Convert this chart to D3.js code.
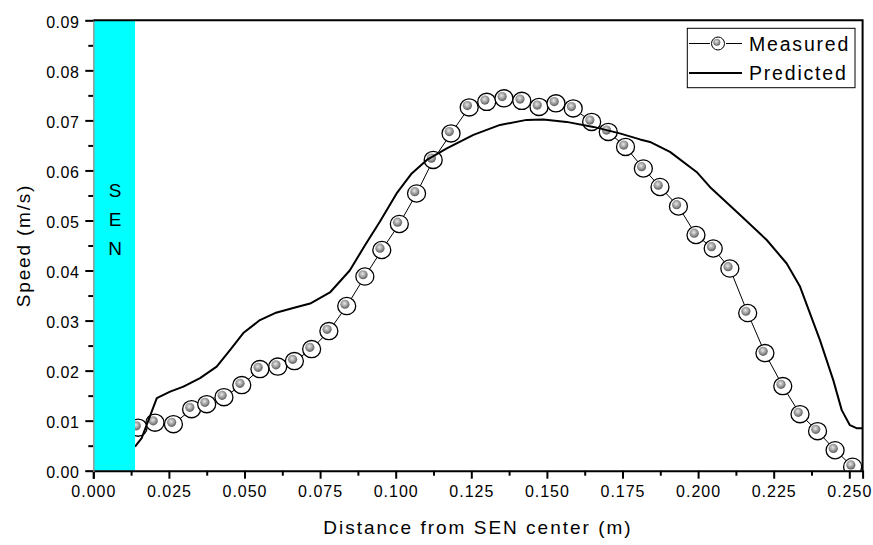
<!DOCTYPE html>
<html>
<head>
<meta charset="utf-8">
<script src="https://cdn.jsdelivr.net/npm/d3@7/dist/d3.min.js"></script>
<style>
  body { margin: 0; background: #fff; }
  svg { display: block; font-family: "Liberation Sans", Arial, sans-serif; }
</style>
</head>
<body>
<svg id="chart" width="873" height="545"></svg>
<script>
// measured speed along the distance from the SEN centre
const measuredX = [0.0148, 0.0204, 0.0265, 0.0325, 0.0375, 0.0432, 0.0491, 0.0551, 0.0610, 0.0665,
  0.0722, 0.0779, 0.0838, 0.0898, 0.0954, 0.1012, 0.1069, 0.1124, 0.1183, 0.1243,
  0.1301, 0.1358, 0.1417, 0.1474, 0.1530, 0.1587, 0.1648, 0.1703, 0.1760, 0.1819,
  0.1874, 0.1935, 0.1993, 0.2050, 0.2105, 0.2164, 0.2221, 0.2280, 0.2337, 0.2395,
  0.2453, 0.2511]
const measuredY = [0.0086, 0.0096, 0.0093, 0.0123, 0.0133, 0.0147, 0.0171, 0.0203, 0.0208, 0.0219,
  0.0243, 0.0279, 0.0329, 0.0388, 0.0441, 0.0493, 0.0554, 0.0621, 0.0674, 0.0726,
  0.0737, 0.0744, 0.0739, 0.0727, 0.0734, 0.0724, 0.0697, 0.0677, 0.0647, 0.0604,
  0.0567, 0.0528, 0.0471, 0.0444, 0.0404, 0.0315, 0.0235, 0.0169, 0.0113, 0.0079,
  0.0041, 0.0008]

// predicted curve
const predictedX = [0.0138, 0.0160, 0.0210, 0.0254, 0.0298, 0.0353, 0.0408, 0.0452, 0.0496, 0.0551,
  0.0601, 0.0661, 0.0717, 0.0784, 0.0848, 0.0898, 0.0948, 0.1003, 0.1053, 0.1103,
  0.1169, 0.1257, 0.1345, 0.1433, 0.1488, 0.1565, 0.1654, 0.1741, 0.1808, 0.1841,
  0.1907, 0.1995, 0.2039, 0.2139, 0.2227, 0.2293, 0.2337, 0.2403, 0.2447, 0.2475,
  0.2502, 0.2524, 0.2546]
const predictedY = [0.0048, 0.0065, 0.0145, 0.0158, 0.0168, 0.0185, 0.0208, 0.0241, 0.0275, 0.0301,
  0.0315, 0.0325, 0.0334, 0.0357, 0.0400, 0.0450, 0.0498, 0.0554, 0.0594, 0.0621,
  0.0644, 0.0671, 0.0691, 0.0701, 0.0702, 0.0697, 0.0687, 0.0674, 0.0662, 0.0657,
  0.0637, 0.0597, 0.0567, 0.0511, 0.0461, 0.0414, 0.0368, 0.0261, 0.0181, 0.0121,
  0.0091, 0.0085, 0.0085]

const senRange = [0, 0.0138]
const senLabel = ['S', 'E', 'N']
const xTicks = [0, 0.025, 0.05, 0.075, 0.1, 0.125, 0.15, 0.175, 0.2, 0.225, 0.25]
const yTicks = [0, 0.01, 0.02, 0.03, 0.04, 0.05, 0.06, 0.07, 0.08, 0.09]
const legendNames = ['Measured', 'Predicted']

let svg = d3.select('#chart'),
    pLeft = 93.3, pRight = 862.6, pTop = 20.3, pBottom = 470.7

let x = d3.scaleLinear().domain([0, 0.2544]).range([pLeft, pRight])
let y = d3.scaleLinear().domain([0, 0.09]).range([pBottom, pTop])

let measured = measuredX.map((v, i) => ({x: v, y: measuredY[i]}))
let predicted = predictedX.map((v, i) => ({x: v, y: predictedY[i]}))

let defs = svg.append('defs')
defs.append('clipPath').attr('id', 'plotClip')
  .append('rect')
  .attr('x', pLeft).attr('y', pTop)
  .attr('width', pRight - pLeft).attr('height', pBottom - pTop)

let grad = defs.append('radialGradient').attr('id', 'ball')
  .attr('cx', '45%').attr('cy', '40%').attr('r', '60%')
grad.append('stop').attr('offset', '0%').attr('stop-color', '#e8e8e8')
grad.append('stop').attr('offset', '50%').attr('stop-color', '#a6a6a6')
grad.append('stop').attr('offset', '100%').attr('stop-color', '#5c5c5c')

// minor ticks first, the major axes go on top
let minorX = d3.range(0.0125, 0.2544, 0.025)
let minorY = d3.range(0.005, 0.09, 0.01)

svg.append('g').attr('transform', `translate(0,${pBottom})`)
  .call(d3.axisBottom(x).tickValues(minorX).tickSize(5).tickFormat(''))
  .call(g => g.select('.domain').remove())
  .selectAll('line').attr('stroke-width', 2)

svg.append('g').attr('transform', `translate(${pLeft},0)`)
  .call(d3.axisLeft(y).tickValues(minorY).tickSize(5).tickFormat(''))
  .call(g => g.select('.domain').remove())
  .selectAll('line').attr('stroke-width', 2)

let plot = svg.append('g').attr('clip-path', 'url(#plotClip)')

// measured line + markers
plot.append('path')
  .datum(measured)
  .attr('fill', 'none')
  .attr('stroke', '#000')
  .attr('stroke-width', 1)
  .attr('d', d3.line().x(d => x(d.x)).y(d => y(d.y)))

let marks = plot.selectAll('.mark')
  .data(measured)
  .join('g')
  .attr('class', 'mark')
  .attr('transform', d => `translate(${x(d.x)},${y(d.y)})`)

marks.append('ellipse')
  .attr('rx', 9).attr('ry', 8.6)
  .attr('fill', '#fff')
  .attr('stroke', '#000')
  .attr('stroke-width', 1.3)

marks.append('circle')
  .attr('cx', -1.8).attr('cy', -1.8).attr('r', 4.6)
  .attr('fill', 'url(#ball)')

// predicted
plot.append('path')
  .datum(predicted)
  .attr('fill', 'none')
  .attr('stroke', '#000')
  .attr('stroke-width', 2)
  .attr('stroke-linejoin', 'round')
  .attr('d', d3.line().x(d => x(d.x)).y(d => y(d.y)))

// SEN band
svg.append('rect')
  .attr('x', x(senRange[0]))
  .attr('y', y(0.09))
  .attr('width', x(senRange[1]) - x(senRange[0]))
  .attr('height', y(0) - y(0.09))
  .attr('fill', '#00ffff')

svg.append('g').selectAll('text')
  .data(senLabel)
  .join('text')
  .attr('x', (x(senRange[0]) + x(senRange[1])) / 2 + 1)
  .attr('y', (d, i) => 197 + i * 29)
  .attr('text-anchor', 'middle')
  .attr('font-size', 19)
  .text(d => d)

// axes
let xAxis = svg.append('g').attr('transform', `translate(0,${pBottom})`)
  .call(d3.axisBottom(x).tickValues(xTicks).tickSize(8).tickPadding(7).tickFormat(d3.format('.3f')))
xAxis.select('.domain').attr('stroke-width', 2)
xAxis.selectAll('line').attr('stroke-width', 2)
xAxis.selectAll('text').attr('font-size', 16).attr('letter-spacing', 1).attr('fill', '#000')
  .attr('font-family', '"Liberation Sans", Arial, sans-serif')

let yAxis = svg.append('g').attr('transform', `translate(${pLeft},0)`)
  .call(d3.axisLeft(y).tickValues(yTicks).tickSize(8).tickPadding(6).tickFormat(d3.format('.2f')))
yAxis.select('.domain').attr('stroke', '#9a9a9a').attr('stroke-width', 1.5)
yAxis.selectAll('line').attr('stroke-width', 2)
yAxis.selectAll('text').attr('font-size', 16).attr('letter-spacing', 0.5).attr('fill', '#000')
  .attr('dy', '0.42em')
  .attr('font-family', '"Liberation Sans", Arial, sans-serif')

// frame top and right
svg.append('path')
  .attr('d', `M${pLeft},${pTop}H${pRight}V${pBottom}`)
  .attr('fill', 'none')
  .attr('stroke', '#000')
  .attr('stroke-width', 2)

// titles
svg.append('text')
  .attr('x', (pLeft + pRight) / 2)
  .attr('y', 534)
  .attr('text-anchor', 'middle')
  .attr('font-size', 19)
  .attr('letter-spacing', 2)
  .text('Distance from SEN center (m)')

svg.append('text')
  .attr('transform', `translate(30,${(pTop + pBottom) / 2}) rotate(-90)`)
  .attr('text-anchor', 'middle')
  .attr('font-size', 19)
  .attr('letter-spacing', 1.8)
  .text('Speed (m/s)')

// legend
let lg = svg.append('g')
lg.append('rect')
  .attr('x', 687.3).attr('y', 28.3)
  .attr('width', 167.7).attr('height', 59.4)
  .attr('fill', '#fff')
  .attr('stroke', '#000')
  .attr('stroke-width', 1)

let row1 = 43.5, row2 = 73
lg.append('path')
  .attr('d', `M689,${row1}H710M726,${row1}H742`)
  .attr('stroke', '#000').attr('stroke-width', 1)
lg.append('ellipse')
  .attr('cx', 718).attr('cy', row1).attr('rx', 6.5).attr('ry', 6.5)
  .attr('fill', '#fff').attr('stroke', '#000').attr('stroke-width', 1)
lg.append('circle')
  .attr('cx', 716.8).attr('cy', row1 - 1.2).attr('r', 3.5)
  .attr('fill', 'url(#ball)')
lg.append('path')
  .attr('d', `M689,${row2}H742`)
  .attr('stroke', '#000').attr('stroke-width', 2)

lg.selectAll('.lgtext')
  .data(legendNames)
  .join('text')
  .attr('class', 'lgtext')
  .attr('x', 749)
  .attr('y', (d, i) => [row1, row2][i])
  .attr('dy', '0.36em')
  .attr('font-size', 19.5)
  .attr('letter-spacing', 1.8)
  .text(d => d)
</script>
</body>
</html>
